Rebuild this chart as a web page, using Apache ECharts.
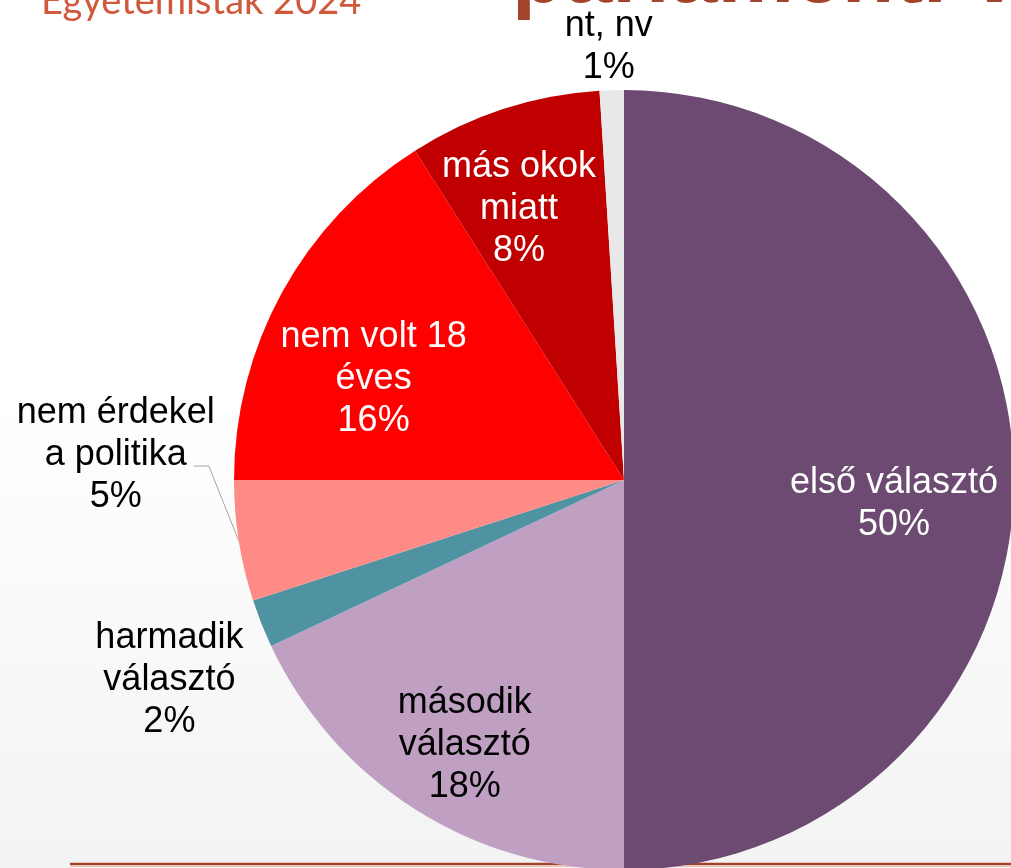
<!DOCTYPE html>
<html>
<head>
<meta charset="utf-8">
<script src="https://cdn.jsdelivr.net/npm/echarts@6/dist/echarts.min.js"></script>
<style>html,body{margin:0;padding:0;background:#fff;}#c{width:1011px;height:868px;}</style>
</head>
<body>
<div id="c"></div>
<script>
// ---- data ----
const categories = ['első választó', 'második\nválasztó', 'harmadik\nválasztó', 'nem érdekel\na politika', 'nem volt 18\néves', 'más okok\nmiatt', 'nt, nv'];
const values = [50, 18, 2, 5, 16, 8, 1];

// ---- styling ----
const colors = ['#6C4A72', '#BFA0C3', '#4F93A3', '#FF8B86', '#FF0000', '#C00000', '#E8E8E8'];
const labelColors = ['#ffffff', '#000000', '#000000', '#000000', '#ffffff', '#ffffff', '#000000'];
const outsideIdx = [2, 3, 6];
const leaderIdx = 3;
const labelShift = {0: [-18, 24], 1: [-5, 22], 4: [2, 38], 5: [-16, 3], 6: [-3, -43], 2: [-92, 57], 3: [-123, -86]};
const leaderBend = [[-30, -75], [-45, -75]];
const FONT = '"Liberation Sans", Arial, sans-serif';

const chart = echarts.init(document.getElementById('c'), null, {renderer: 'canvas'});

const pieData = categories.map((name, i) => ({name: name, value: values[i], itemStyle: {color: colors[i]}}));

const labelData = categories.map((name, i) => {
  const out = outsideIdx.indexOf(i) >= 0;
  return {
    name: name,
    value: values[i],
    label: out ? {position: 'outside', width: 250, overflow: 'none', color: labelColors[i]} : {position: 'inside', color: labelColors[i]},
    labelLine: out ? {show: true, lineStyle: i === leaderIdx ? {color: '#A6A6A6', width: 1, opacity: 1} : {opacity: 0}} : {show: false}
  };
});

chart.setOption({
  animation: false,
  backgroundColor: new echarts.graphic.LinearGradient(0, 0, 0, 1, [
    {offset: 0, color: '#ffffff'},
    {offset: 0.45, color: '#ffffff'},
    {offset: 1, color: '#f3f3f3'}
  ]),
  graphic: [
    {type: 'line', silent: true, z: -5, shape: {x1: 70, y1: 864, x2: 1011, y2: 864}, style: {stroke: '#A5432A', lineWidth: 2.5}},
    {type: 'line', silent: true, z: -5, shape: {x1: 70, y1: 866.5, x2: 1011, y2: 866.5}, style: {stroke: '#EDC3B6', lineWidth: 1}},
    {type: 'text', silent: true, x: 41, y: 2, style: {text: 'Egyetemisták 2024', fill: '#D0583B', font: '38px Lato, "Open Sans", sans-serif', verticalAlign: 'middle', align: 'left'}},
    {type: 'text', silent: true, x: 512, y: -22, style: {text: 'parlamenti v', fill: '#A3432B', font: 'bold 86px "Liberation Sans", Arial, sans-serif', verticalAlign: 'middle', align: 'left'}}
  ],
  series: [
    {
      type: 'pie',
      silent: true,
      center: [624, 480],
      radius: [0, 390],
      startAngle: 90,
      clockwise: true,
      avoidLabelOverlap: false,
      label: {show: false},
      labelLine: {show: false},
      emphasis: {disabled: true},
      itemStyle: {borderWidth: 0},
      data: pieData
    },
    {
      type: 'pie',
      silent: true,
      center: [624, 480],
      radius: [180, 390],
      startAngle: 90,
      clockwise: true,
      avoidLabelOverlap: false,
      emphasis: {disabled: true},
      itemStyle: {color: 'rgba(0,0,0,0)', borderWidth: 0},
      label: {
        show: true,
        position: 'inside',
        fontFamily: FONT,
        fontSize: 36,
        lineHeight: 42,
        align: 'center',
        formatter: p => p.name + '\n' + p.value + '%'
      },
      labelLine: {length: 15, length2: 15, smooth: false},
      labelLayout: function (p) {
        const s = labelShift[p.dataIndex] || [0, 0];
        const out = outsideIdx.indexOf(p.dataIndex) >= 0;
        let ax, ay;
        if (out && p.labelLinePoints) {
          ax = p.labelLinePoints[0][0];
          ay = p.labelLinePoints[0][1];
        } else {
          ax = p.labelRect.x + p.labelRect.width / 2;
          ay = p.labelRect.y + p.labelRect.height / 2;
        }
        const res = {x: ax + s[0], y: ay + s[1], align: 'center', verticalAlign: 'middle'};
        if (out && p.labelLinePoints) {
          res.labelLinePoints = [[ax, ay], [ax + leaderBend[0][0], ay + leaderBend[0][1]], [ax + leaderBend[1][0], ay + leaderBend[1][1]]];
        }
        return res;
      },
      data: labelData
    }
  ]
});
</script>
</body>
</html>
